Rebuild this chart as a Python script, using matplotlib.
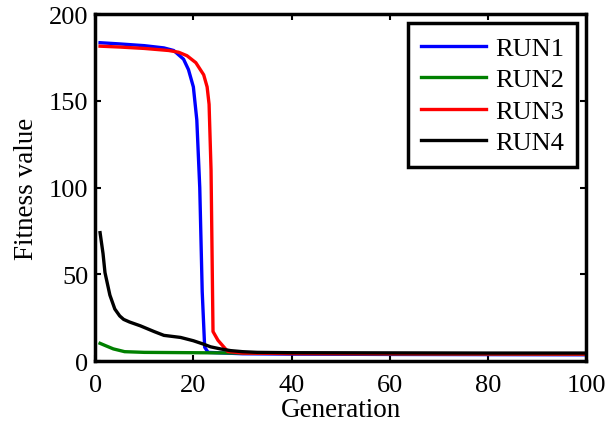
import matplotlib
matplotlib.use("Agg")
import matplotlib.pyplot as plt

plt.rcParams['font.family'] = ['Liberation Serif', 'DejaVu Serif']

gen_run1 = [1, 5, 10, 14, 16, 18, 19, 20, 20.7, 21.3, 21.8, 22.3, 23, 30, 40, 60, 80, 100]
val_run1 = [183.5, 182.8, 181.8, 180.5, 179, 174, 168, 158, 139, 100, 40, 8, 5, 4.2, 4, 3.8, 3.7, 3.6]

gen_run2 = [1, 2, 3.7, 6, 10, 20, 30, 40, 60, 80, 100]
val_run2 = [10.2, 9, 7, 5.4, 5.0, 4.8, 4.6, 4.4, 4.2, 4.1, 4.0]

gen_run3 = [1, 5, 10, 15, 17, 18.7, 20.5, 22.1, 22.8, 23.2, 23.6, 24.0, 25, 27, 30, 40, 60, 80, 100]
val_run3 = [181.5, 181, 180.2, 179, 178, 176, 172, 165, 158, 148, 110, 17, 12, 5.5, 4.6, 4.3, 4.2, 4.1, 4.0]

gen_run4 = [1, 1.6, 2, 3, 4, 5, 5.8, 7, 9.2, 12, 14, 17.4, 20, 22, 23.5, 25.5, 27.6, 30, 33, 40, 60, 80, 100]
val_run4 = [74, 62, 51, 38, 30, 26, 24, 22.5, 20.3, 17, 14.8, 13.6, 11.7, 9.8, 8.2, 7, 6, 5.4, 5.0, 4.8, 4.7, 4.6, 4.6]

labels = ['RUN1', 'RUN2', 'RUN3', 'RUN4']
colors = ['#0000ff', '#008000', '#ff0000', '#000000']

fig = plt.figure(figsize=(6.10, 4.31), dpi=100)
ax = fig.add_axes([0.156, 0.16, 0.805, 0.805])

for g, v, lab, c in zip([gen_run1, gen_run2, gen_run3, gen_run4],
                        [val_run1, val_run2, val_run3, val_run4], labels, colors):
    ax.plot(g, v, color=c, lw=2.4, label=lab)

ax.set_xlim(0, 100)
ax.set_ylim(0, 200)
ax.set_xticks([0, 20, 40, 60, 80, 100])
ax.set_yticks([0, 50, 100, 150, 200])
ax.tick_params(direction='in', length=4, width=1.5, labelsize=19, top=True, right=True)
ax.tick_params(axis='x', pad=9)
ax.tick_params(axis='y', pad=5)
for s in ax.spines.values():
    s.set_linewidth(2.5)
ax.set_xlabel('Generation', fontsize=19.5, labelpad=1)
ax.set_ylabel('Fitness value', fontsize=19.5, labelpad=7)

leg = ax.legend(loc='upper right', fontsize=19, frameon=True, fancybox=False, framealpha=1,
                handlelength=2.45, handletextpad=0.35, borderpad=0.5, labelspacing=0.3,
                borderaxespad=0.35)
leg.get_frame().set_edgecolor('black')
leg.get_frame().set_linewidth(2.5)

fig.savefig('out.png', dpi=100)
